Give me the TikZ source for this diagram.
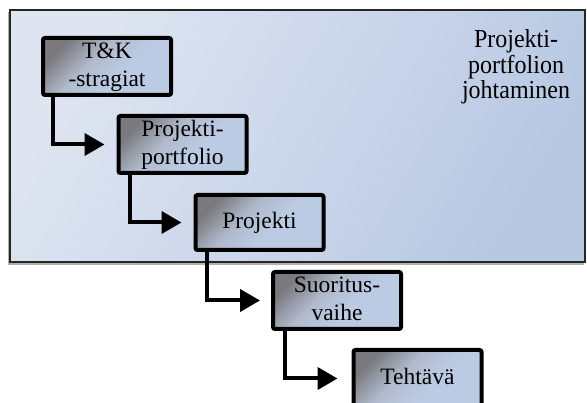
\documentclass[tikz,border=0pt]{standalone}
\usepackage{fontspec}
\setmainfont{Liberation Serif}
\usetikzlibrary{arrows.meta}
\definecolor{bgA}{RGB}{222,229,241}
\definecolor{bgB}{RGB}{184,200,227}
\definecolor{bxA}{RGB}{122,122,126}
\definecolor{bxM}{RGB}{176,186,204}
\definecolor{bxB}{RGB}{188,203,228}
\pgfdeclareverticalshading{boxshade}{100bp}{color(0bp)=(bxB); color(25bp)=(bxB); color(42bp)=(bxB); color(58bp)=(bxM); color(75bp)=(bxA); color(100bp)=(bxA)}
\newcommand{\boxt}[1]{\begin{tabular}{@{}c@{}}#1\end{tabular}}
\newcommand{\tallt}[1]{\scalebox{1}[1.08]{\begin{tabular}{@{}c@{}}#1\end{tabular}}}
\tikzset{
  stepbox/.style={draw=black, line width=4pt, rounded corners=2pt,
    shading=boxshade, shading angle=45,
    minimum width=128pt, minimum height=57pt, inner sep=0pt,
    align=center, font=\fontsize{23.5}{28}\selectfont},
  conn/.style={line width=4pt, -{Triangle[length=20pt,width=22pt]}},
}
\begin{document}
\begin{tikzpicture}[x=1pt,y=-1pt]
\useasboundingbox (0,0) rectangle (587,403);
% outer frame
\draw[gray!60, line width=2pt] (9,12) -- (9,264) -- (584,264);
\shade[top color=bgA, bottom color=bgB, shading angle=60] (10,10) rectangle (585,262);
\draw[black!85, line width=2pt] (10,10) rectangle (585,262);
\node[inner sep=0pt, font=\fontsize{24}{23.6}\selectfont] (lab) at (516,68) {\tallt{Projekti-\\portfolion\\johtaminen}};
% boxes
\node[stepbox] (b1) at (107,66.5) {\boxt{T\&K\\-stragiat}};
\node[stepbox] (b2) at (182.5,144.5) {\boxt{Projekti-\\portfolio}};
\node[stepbox, minimum height=55pt] (b3) at (259.5,222.5) {\boxt{Projekti}};
\node[stepbox] (b4) at (337,300.5) {\boxt{Suoritus-\\vaihe}};
\node[stepbox] (b5) at (417.5,378.5) {\boxt{Tehtävä}};
% connectors
\draw[conn] ([xshift=12pt]b1.south west) |- ([xshift=-12pt]b2.west);
\draw[conn] ([xshift=13pt]b2.south west) |- ([xshift=-12pt]b3.west);
\draw[conn] ([xshift=13pt]b3.south west) |- ([xshift=-11pt]b4.west);
\draw[conn] ([xshift=14pt]b4.south west) |- ([xshift=-14pt]b5.west);
\end{tikzpicture}
\end{document}
